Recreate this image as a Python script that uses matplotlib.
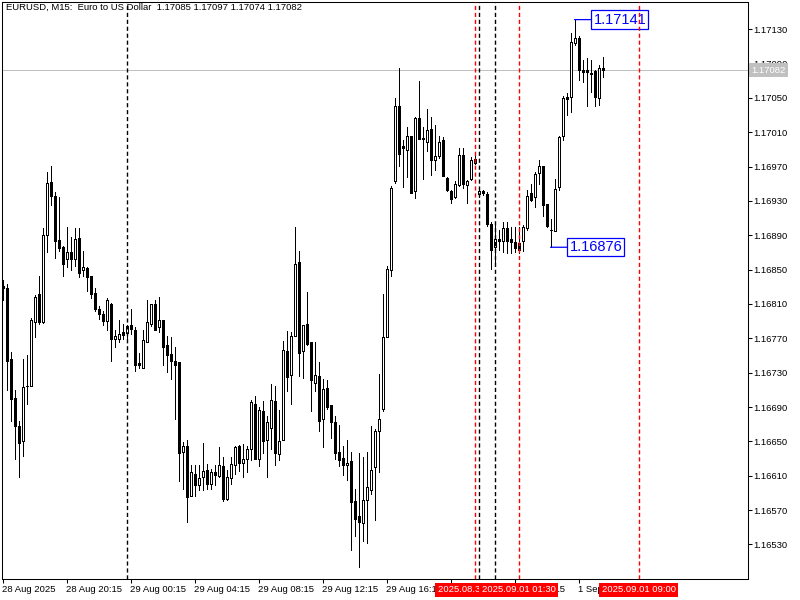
import matplotlib
matplotlib.use("Agg")
import matplotlib.pyplot as plt
import matplotlib.transforms as mtransforms

plt.rcParams["font.family"] = ["Liberation Sans", "DejaVu Sans"]

# EURUSD M15 bars, one entry per bar (bar index = position on the chart)
opens = [
    1.16831, 1.16829, 1.16746, 1.16700, 1.16668, 1.16650, 1.16715, 1.16715, 1.16789, 1.16822,
    1.16789, 1.16890, 1.16952, 1.16936, 1.16884, 1.16876, 1.16862, 1.16870, 1.16862, 1.16887,
    1.16849, 1.16852, 1.16842, 1.16823, 1.16804, 1.16798, 1.16790, 1.16810, 1.16769, 1.16769,
    1.16777, 1.16776, 1.16785, 1.16780, 1.16741, 1.16735, 1.16766, 1.16787, 1.16810, 1.16783,
    1.16791, 1.16762, 1.16752, 1.16744, 1.16742, 1.16638, 1.16645, 1.16586, 1.16612, 1.16599,
    1.16608, 1.16617, 1.16600, 1.16614, 1.16610, 1.16621, 1.16583, 1.16607, 1.16622, 1.16645,
    1.16625, 1.16630, 1.16641, 1.16694, 1.16629, 1.16685, 1.16652, 1.16666, 1.16697, 1.16635,
    1.16652, 1.16755, 1.16727, 1.16773, 1.16859, 1.16755, 1.16787, 1.16766, 1.16718, 1.16726,
    1.16676, 1.16712, 1.16692, 1.16673, 1.16638, 1.16631, 1.16623, 1.16627, 1.16581, 1.16563,
    1.16555, 1.16582, 1.16593, 1.16620, 1.16662, 1.16688, 1.16771, 1.16850, 1.16953, 1.17041,
    1.16994, 1.16989, 1.17006, 1.16941, 1.17027, 1.17003, 1.16999, 1.17014, 1.16978, 1.16982,
    1.17001, 1.16957, 1.16942, 1.16934, 1.16948, 1.16983, 1.16948, 1.16955, 1.16974, 1.16938,
    1.16941, 1.16938, 1.16903, 1.16876, 1.16886, 1.16883, 1.16898, 1.16886, 1.16882, 1.16881,
    1.16883, 1.16898, 1.16939, 1.16934, 1.16962, 1.16971, 1.16926, 1.16896, 1.16895, 1.16946,
    1.17005, 1.17051, 1.17051, 1.17114, 1.17120, 1.17082, 1.17082, 1.17079, 1.17081, 1.17050,
    1.17085,
]
highs = [
    1.16838, 1.16833, 1.16754, 1.16710, 1.16674, 1.16746, 1.16750, 1.16794, 1.16820, 1.16842,
    1.16898, 1.16964, 1.16971, 1.16940, 1.16935, 1.16877, 1.16899, 1.16888, 1.16898, 1.16898,
    1.16872, 1.16853, 1.16842, 1.16829, 1.16808, 1.16802, 1.16817, 1.16811, 1.16780, 1.16791,
    1.16787, 1.16786, 1.16804, 1.16783, 1.16753, 1.16780, 1.16815, 1.16810, 1.16815, 1.16818,
    1.16791, 1.16773, 1.16771, 1.16760, 1.16742, 1.16649, 1.16652, 1.16622, 1.16623, 1.16622,
    1.16648, 1.16624, 1.16618, 1.16622, 1.16643, 1.16632, 1.16617, 1.16632, 1.16645, 1.16646,
    1.16647, 1.16645, 1.16698, 1.16703, 1.16690, 1.16697, 1.16680, 1.16717, 1.16714, 1.16687,
    1.16767, 1.16779, 1.16777, 1.16900, 1.16872, 1.16786, 1.16824, 1.16766, 1.16766, 1.16742,
    1.16723, 1.16721, 1.16692, 1.16679, 1.16669, 1.16645, 1.16652, 1.16638, 1.16595, 1.16636,
    1.16632, 1.16638, 1.16668, 1.16665, 1.16728, 1.16822, 1.16854, 1.16947, 1.17050, 1.17085,
    1.17001, 1.17016, 1.17006, 1.17028, 1.17069, 1.17016, 1.17037, 1.17028, 1.17018, 1.17006,
    1.17004, 1.16958, 1.16943, 1.16953, 1.16991, 1.16991, 1.16954, 1.16981, 1.16987, 1.16944,
    1.16943, 1.16940, 1.16905, 1.16904, 1.16896, 1.16905, 1.16905, 1.16900, 1.16900, 1.16900,
    1.16902, 1.16943, 1.16950, 1.16964, 1.16977, 1.16971, 1.16926, 1.16909, 1.16956, 1.17005,
    1.17052, 1.17055, 1.17125, 1.17141, 1.17122, 1.17094, 1.17096, 1.17094, 1.17082, 1.17088,
    1.17097,
]
lows = [
    1.16815, 1.16710, 1.16674, 1.16629, 1.16608, 1.16633, 1.16694, 1.16714, 1.16772, 1.16787,
    1.16788, 1.16870, 1.16925, 1.16863, 1.16872, 1.16843, 1.16853, 1.16850, 1.16854, 1.16841,
    1.16842, 1.16825, 1.16817, 1.16802, 1.16793, 1.16786, 1.16780, 1.16743, 1.16760, 1.16766,
    1.16769, 1.16768, 1.16775, 1.16732, 1.16735, 1.16735, 1.16766, 1.16784, 1.16780, 1.16777,
    1.16739, 1.16731, 1.16723, 1.16676, 1.16604, 1.16594, 1.16556, 1.16586, 1.16586, 1.16593,
    1.16593, 1.16595, 1.16595, 1.16599, 1.16609, 1.16581, 1.16582, 1.16600, 1.16612, 1.16615,
    1.16609, 1.16614, 1.16628, 1.16629, 1.16621, 1.16637, 1.16608, 1.16641, 1.16623, 1.16628,
    1.16652, 1.16709, 1.16693, 1.16773, 1.16726, 1.16724, 1.16762, 1.16685, 1.16709, 1.16662,
    1.16644, 1.16688, 1.16654, 1.16629, 1.16621, 1.16611, 1.16605, 1.16524, 1.16540, 1.16504,
    1.16534, 1.16532, 1.16589, 1.16558, 1.16614, 1.16685, 1.16771, 1.16843, 1.16951, 1.16971,
    1.16946, 1.16958, 1.16939, 1.16933, 1.17002, 1.16955, 1.16988, 1.16960, 1.16966, 1.16980,
    1.16959, 1.16942, 1.16928, 1.16933, 1.16947, 1.16945, 1.16927, 1.16954, 1.16973, 1.16934,
    1.16937, 1.16901, 1.16851, 1.16857, 1.16873, 1.16870, 1.16869, 1.16869, 1.16870, 1.16869,
    1.16872, 1.16896, 1.16930, 1.16923, 1.16950, 1.16912, 1.16900, 1.16876, 1.16895, 1.16943,
    1.17001, 1.17030, 1.17033, 1.17112, 1.17071, 1.17068, 1.17041, 1.17057, 1.17040, 1.17042,
    1.17074,
]
closes = [
    1.16829, 1.16744, 1.16699, 1.16668, 1.16648, 1.16713, 1.16714, 1.16791, 1.16818, 1.16789,
    1.16890, 1.16951, 1.16936, 1.16883, 1.16875, 1.16856, 1.16871, 1.16862, 1.16886, 1.16846,
    1.16853, 1.16841, 1.16821, 1.16804, 1.16798, 1.16790, 1.16815, 1.16769, 1.16773, 1.16775,
    1.16774, 1.16784, 1.16781, 1.16739, 1.16739, 1.16768, 1.16789, 1.16810, 1.16780, 1.16791,
    1.16760, 1.16751, 1.16744, 1.16739, 1.16637, 1.16645, 1.16585, 1.16614, 1.16599, 1.16607,
    1.16615, 1.16600, 1.16614, 1.16611, 1.16622, 1.16583, 1.16608, 1.16624, 1.16643, 1.16625,
    1.16629, 1.16641, 1.16696, 1.16629, 1.16687, 1.16650, 1.16673, 1.16698, 1.16636, 1.16650,
    1.16756, 1.16725, 1.16773, 1.16857, 1.16753, 1.16786, 1.16763, 1.16721, 1.16727, 1.16674,
    1.16711, 1.16690, 1.16673, 1.16637, 1.16628, 1.16623, 1.16625, 1.16579, 1.16560, 1.16556,
    1.16582, 1.16597, 1.16617, 1.16662, 1.16676, 1.16771, 1.16851, 1.16945, 1.17040, 1.16984,
    1.16991, 1.17005, 1.16939, 1.17026, 1.17002, 1.17002, 1.17012, 1.16977, 1.16982, 1.16999,
    1.16959, 1.16943, 1.16932, 1.16950, 1.16983, 1.16950, 1.16953, 1.16978, 1.16979, 1.16941,
    1.16939, 1.16903, 1.16873, 1.16886, 1.16883, 1.16898, 1.16883, 1.16882, 1.16875, 1.16873,
    1.16899, 1.16936, 1.16931, 1.16961, 1.16971, 1.16925, 1.16901, 1.16896, 1.16944, 1.17004,
    1.17050, 1.17049, 1.17115, 1.17120, 1.17082, 1.17080, 1.17080, 1.17078, 1.17051, 1.17085,
    1.17082,
]

# time scale labels (bar index -> text)
time_tick_bars = [0, 16, 32, 48, 64, 80, 96, 112, 128, 144]
time_tick_labels = [
    "28 Aug 2025", "28 Aug 20:15", "29 Aug 00:15", "29 Aug 04:15", "29 Aug 08:15",
    "29 Aug 12:15", "29 Aug 16:15", "29 Aug 20:15", "1 Sep 01:15", "1 Sep 05:15",
]
price_ticks = [1.16530, 1.16570, 1.16610, 1.16650, 1.16690, 1.16730, 1.16770, 1.16810,
               1.16850, 1.16890, 1.16930, 1.16970, 1.17010, 1.17050, 1.17090, 1.17130]

# period separators and the red vertical lines with their time labels
separator_bars = [31, 119, 123]
vline_bars = [118, 129, 159]
vline_labels = ["2025.08.31 23:45", "2025.09.01 01:30", "2025.09.01 09:00"]

# high / low price labels
high_bar, high_price = 143, 1.17141
low_bar, low_price = 137, 1.16876
last_price = 1.17082

title = "EURUSD, M15:  Euro to US Dollar  1.17085 1.17097 1.17074 1.17082"

fig = plt.figure(figsize=(8, 6), dpi=100)
ax = fig.add_axes([2 / 800, 21 / 600, 746 / 800, 577 / 600])
# half-pixel shift so the 1px outlines land on whole pixels
ax.set_xlim(-0.125, 186.375)
ax.set_ylim(1.164898, 1.171615)

# current price line
ax.axhline(last_price, color="#C0C0C0", linewidth=0.72, zorder=1)

# candles
x = list(range(len(opens)))
bottoms = [min(o, c) for o, c in zip(opens, closes)]
heights = [abs(c - o) for o, c in zip(opens, closes)]
colors = ["white" if c >= o else "black" for o, c in zip(opens, closes)]
ax.vlines(x, lows, highs, color="black", linewidth=0.72, antialiased=False, zorder=2)
ax.bar(x, heights, bottom=bottoms, width=0.5, color=colors, edgecolor="black",
       linewidth=0.72, antialiased=False, zorder=3)

# vertical lines
for b in separator_bars:
    ax.axvline(b, color="black", linewidth=1.0, dashes=(3, 2), zorder=6)
for b in vline_bars:
    ax.axvline(b, color="#FF0000", linewidth=1.0, dashes=(3, 2), zorder=6)

# high / low labels
box = dict(boxstyle="square,pad=0.15", fc="white", ec="#0000FF", lw=0.9)
arrow = dict(arrowstyle="-", color="#0000FF", lw=0.9, shrinkA=0, shrinkB=0, relpos=(0, 0.5))
for b, p in [(high_bar, high_price), (low_bar, low_price)]:
    ax.annotate(f"{p:.5f}", xy=(b, p), xytext=(19, 0), textcoords="offset pixels",
                ha="left", va="center", fontsize=10.5, color="#0000FF",
                bbox=box, arrowprops=arrow, zorder=5)

# axes, ticks
for s in ax.spines.values():
    s.set_linewidth(0.75)
ax.yaxis.tick_right()
ax.set_yticks(price_ticks)
ax.set_yticklabels([f"{p:.5f}" for p in price_ticks])
ax.tick_params(axis="y", direction="out", length=3, width=0.75, pad=1, labelsize=6.8)
ax.set_xticks(time_tick_bars)
ax.set_xticklabels(time_tick_labels, ha="left")
ax.tick_params(axis="x", direction="out", length=3, width=0.75, pad=1.5, labelsize=6.8)

# red time labels under the vertical lines
trans = mtransforms.blended_transform_factory(ax.transData, ax.transAxes)
for b, lab in zip(vline_bars, vline_labels):
    ax.text(b, -0.0185, lab, transform=trans, ha="center", va="center", fontsize=6.8,
            color="white", bbox=dict(boxstyle="square,pad=0.25", fc="red", ec="none"),
            clip_on=False, zorder=10)

# last price label on the price scale
ptrans = mtransforms.blended_transform_factory(ax.transAxes, ax.transData)
ax.text(1.0045, last_price, f"{last_price:.5f}", transform=ptrans, ha="left", va="center",
        fontsize=6.8, color="white",
        bbox=dict(boxstyle="square,pad=0.25", fc="#C0C0C0", ec="none"), clip_on=False, zorder=10)

fig.text(6 / 800, 1 - 7 / 600, title, ha="left", va="center", fontsize=6.8)

plt.savefig("out.png", dpi=100)
plt.close(fig)
